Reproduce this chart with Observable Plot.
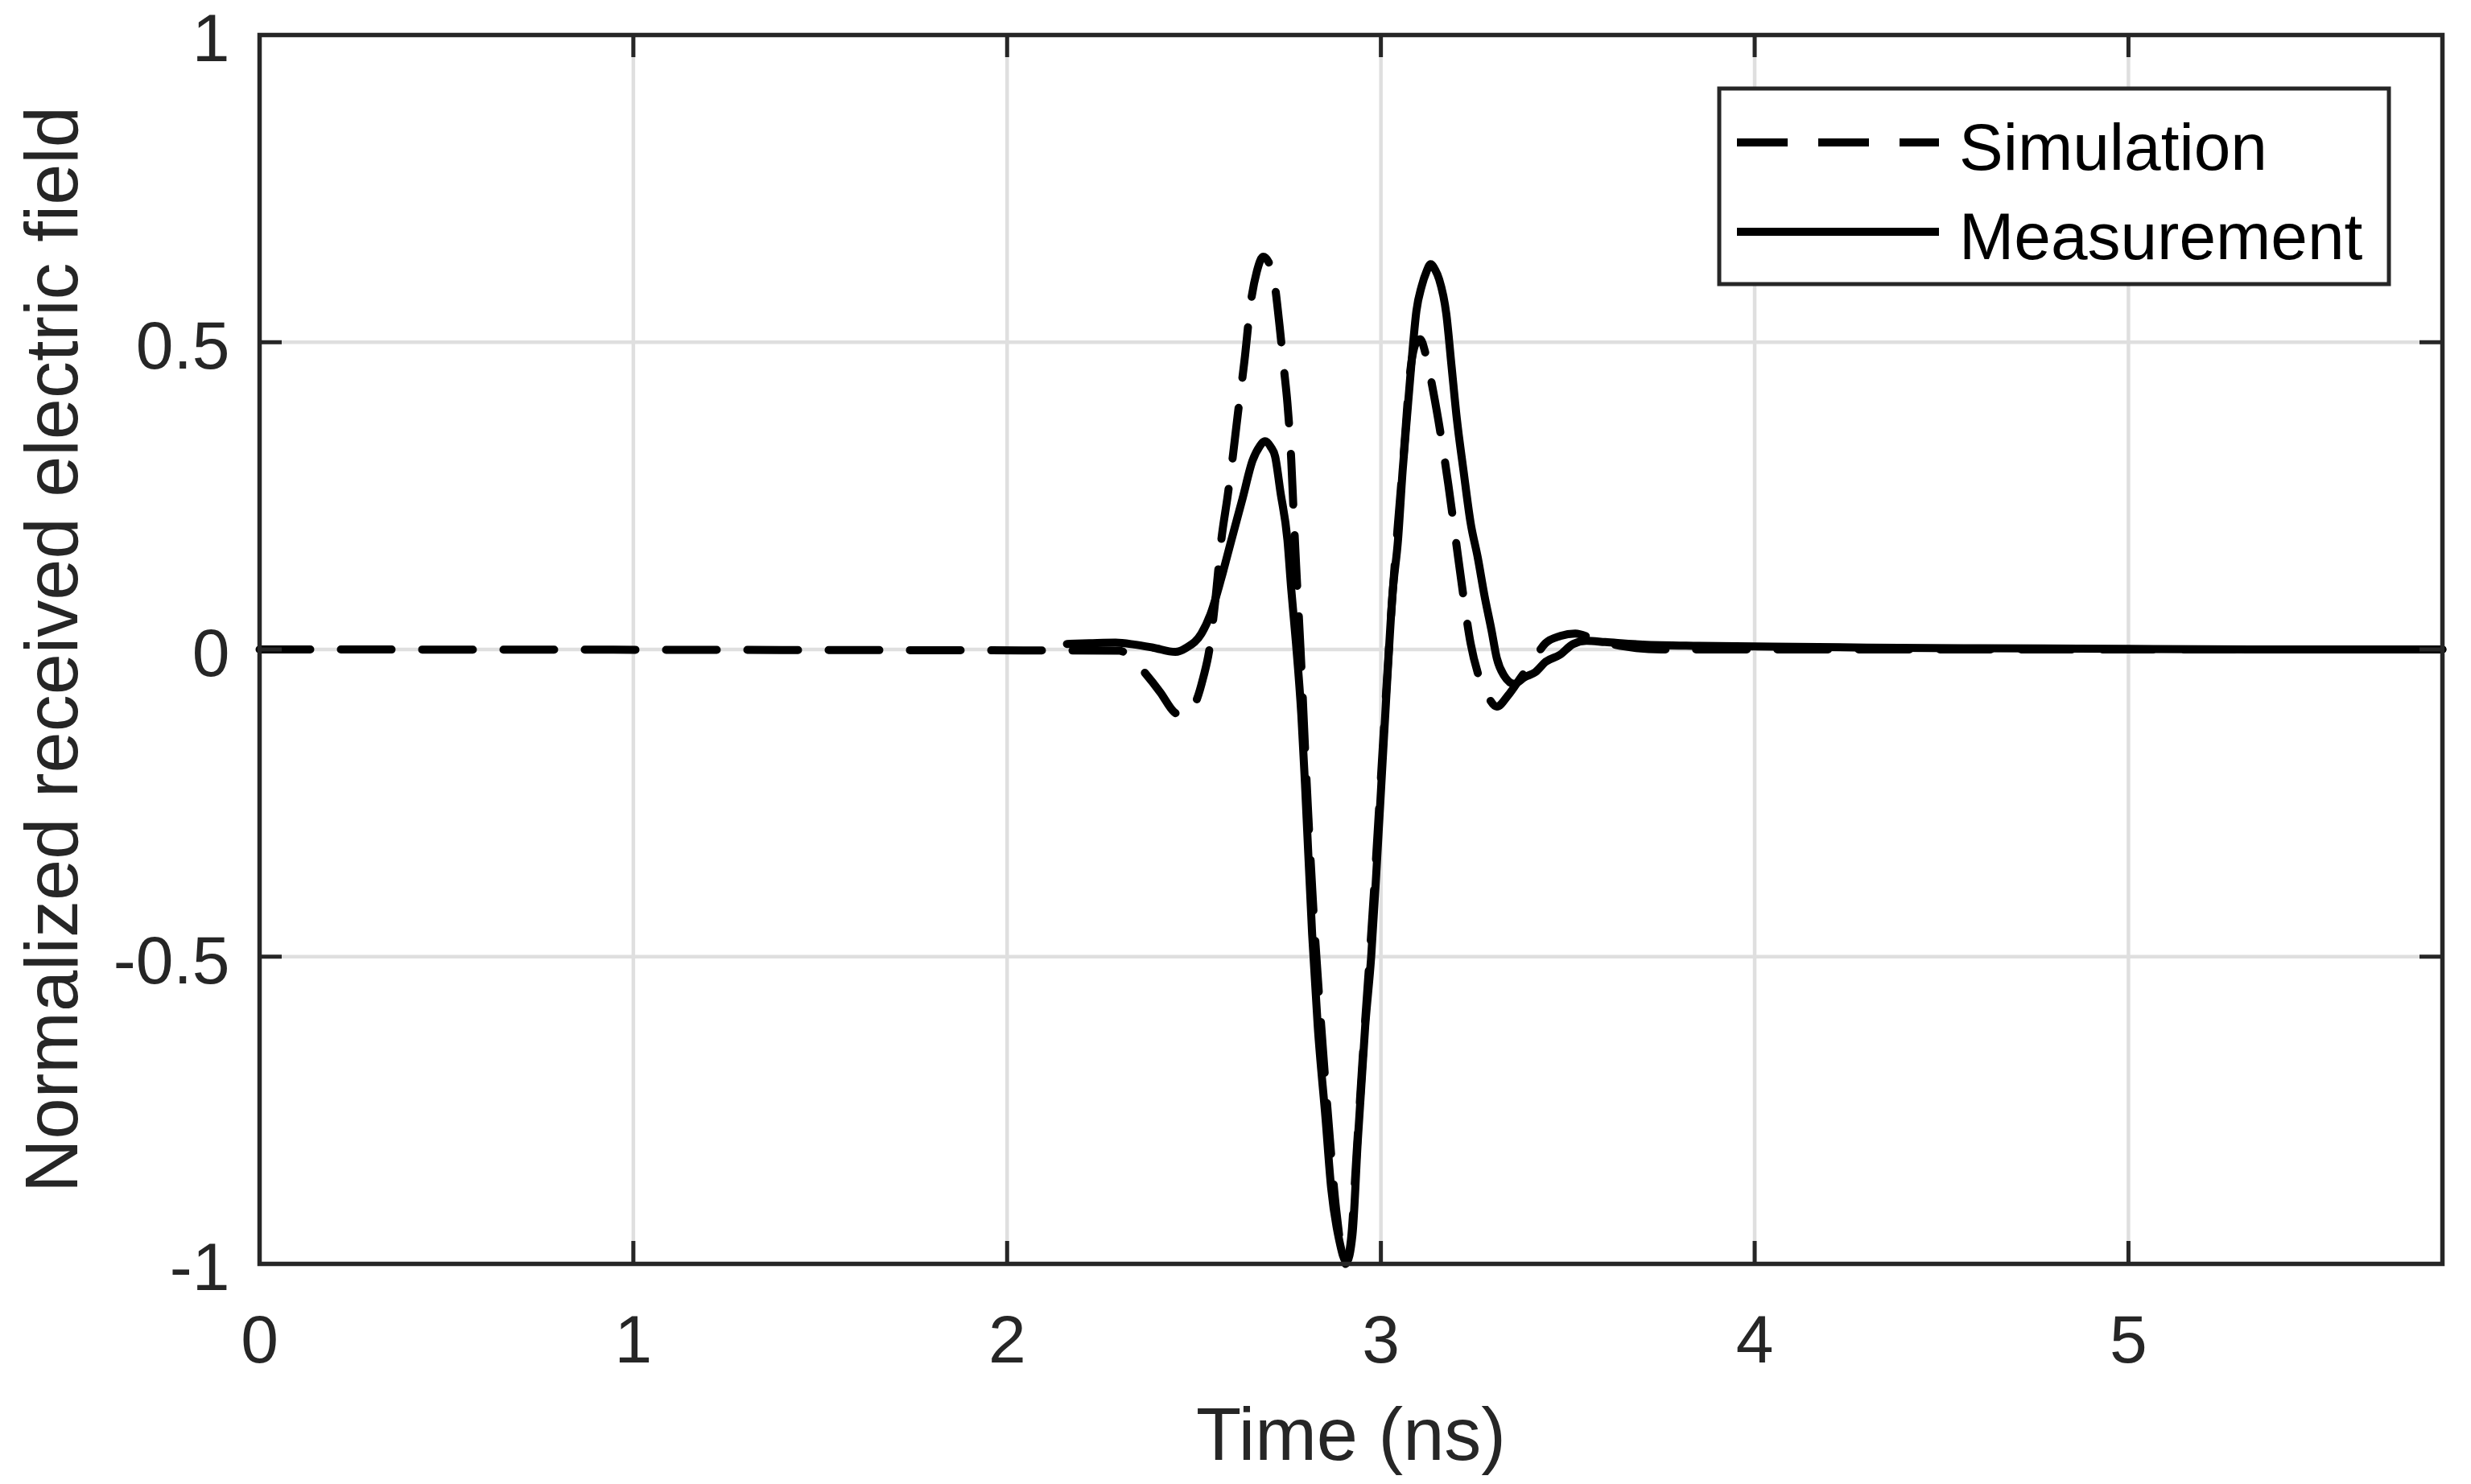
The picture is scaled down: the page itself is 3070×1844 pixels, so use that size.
<!DOCTYPE html>
<html><head><meta charset="utf-8">
<script src="https://cdn.jsdelivr.net/npm/d3@7"></script>
<script src="https://cdn.jsdelivr.net/npm/@observablehq/plot@0.6"></script>
<style>body{margin:0;background:#fff;} #chart{width:3070px;height:1844px;}</style>
</head><body><div id="chart"></div>
<script>
// ---- data ----
const simT = [0,2.30,2.33,2.367,2.41,2.447,2.47,2.49,2.507,2.525,2.54,2.557,2.573,2.59,2.605,2.617,2.635,2.652,2.668,2.685,2.70,2.713,2.729,2.74,2.75,2.76,2.767,2.773,2.785,2.80,2.82,2.84,2.86,2.88,2.905,2.92,2.935,2.955,2.97,2.985,3.0,3.015,3.03,3.045,3.06,3.08,3.095,3.105,3.12,3.14,3.16,3.18,3.20,3.22,3.24,3.26,3.285,3.31,3.34,3.375,3.41,3.44,3.48,3.52,3.57,3.65,3.75,5.84];
const simV = [0,-0.002,-0.012,-0.037,-0.07,-0.102,-0.108,-0.10,-0.082,-0.045,-0.004,0.08,0.178,0.25,0.32,0.382,0.47,0.565,0.615,0.639,0.63,0.605,0.526,0.46,0.40,0.31,0.215,0.139,0.0,-0.2,-0.43,-0.61,-0.77,-0.91,-1.0,-0.96,-0.82,-0.63,-0.50,-0.36,-0.21,-0.06,0.08,0.2,0.31,0.46,0.50,0.505,0.48,0.42,0.35,0.27,0.18,0.09,0.01,-0.04,-0.075,-0.093,-0.075,-0.045,-0.015,0.01,0.022,0.026,0.017,0.005,0.0,0.0];
const measT = [2.16,2.22,2.29,2.34,2.39,2.45,2.48,2.52,2.545,2.573,2.60,2.63,2.657,2.675,2.69,2.705,2.717,2.731,2.75,2.76,2.773,2.787,2.797,2.816,2.831,2.852,2.867,2.888,2.908,2.924,2.938,2.958,2.974,2.989,3.003,3.017,3.031,3.046,3.058,3.07,3.081,3.095,3.109,3.122,3.133,3.145,3.156,3.175,3.189,3.203,3.221,3.24,3.259,3.277,3.296,3.31,3.329,3.357,3.385,3.413,3.441,3.478,3.515,3.55,3.60,3.70,3.85,4.0,4.3,4.6,5.0,5.4,5.84];
const measV = [0.009,0.010,0.011,0.008,0.003,-0.004,0.003,0.026,0.059,0.116,0.178,0.246,0.308,0.33,0.339,0.33,0.314,0.257,0.178,0.099,0.009,-0.105,-0.22,-0.463,-0.613,-0.764,-0.877,-0.96,-0.997,-0.952,-0.801,-0.613,-0.5,-0.35,-0.199,-0.049,0.09,0.18,0.29,0.38,0.461,0.551,0.591,0.615,0.627,0.618,0.602,0.546,0.461,0.376,0.291,0.206,0.15,0.088,0.031,-0.014,-0.042,-0.056,-0.045,-0.037,-0.02,-0.009,0.009,0.014,0.012,0.008,0.006,0.005,0.003,0.002,0.001,0.0,0.0];
const xTicks = [0,1,2,3,4,5];
const yTicks = [-1,-0.5,0,0.5,1];
const xDomain = [0,5.84];
const yDomain = [-1,1];
const xLabel = "Time (ns)";
const yLabel = "Normalized received electric field";
const seriesNames = ["Simulation","Measurement"];

// ---- layout ----
const W=3070,H=1844, mL=322,mR=36,mT=43,mB=274;
const plotW=W-mL-mR, plotH=H-mT-mB;
const tickLen=28;
const ink="#262626";
const gridCol="#dfdfdf";
const dash="63,38";
const font="'Liberation Sans', Arial, Helvetica, sans-serif";

const sim = simT.map((t,i)=>({t, v: simV[i]}));
const meas = measT.map((t,i)=>({t, v: measV[i]}));

const chart = Plot.plot({
  width:W, height:H, marginLeft:mL, marginRight:mR, marginTop:mT, marginBottom:mB,
  style:{fontFamily:font, color:ink, background:"white", overflow:"visible"},
  x:{domain:xDomain},
  y:{domain:yDomain},
  marks:[
    Plot.ruleX(xTicks,{stroke:gridCol,strokeWidth:4.5}),
    Plot.ruleY(yTicks,{stroke:gridCol,strokeWidth:4.5}),
    Plot.line(sim,{x:"t",y:"v",stroke:"#000",strokeWidth:10,strokeDasharray:dash,curve:"monotone-x"}),
    Plot.line(meas,{x:"t",y:"v",stroke:"#000",strokeWidth:10,curve:"monotone-x"}),
    Plot.ruleX(xTicks,{stroke:ink,strokeWidth:5,insetTop:plotH-tickLen}),
    Plot.ruleX(xTicks,{stroke:ink,strokeWidth:5,insetBottom:plotH-tickLen}),
    Plot.ruleY(yTicks,{stroke:ink,strokeWidth:5,insetRight:plotW-tickLen}),
    Plot.ruleY(yTicks,{stroke:ink,strokeWidth:5,insetLeft:plotW-tickLen}),
    Plot.frame({stroke:ink,strokeWidth:5.5}),
    Plot.axisX({ticks:xTicks,tickSize:0,tickPadding:63,fontSize:84,tickFormat:d=>String(d),label:null}),
    Plot.axisY({ticks:yTicks,tickSize:0,tickPadding:37,fontSize:84,tickFormat:d=>String(d),label:null,dy:6}),
    Plot.text([xLabel],{text:d=>d,frameAnchor:"bottom",dy:243,lineAnchor:"bottom",fontSize:92,fill:ink}),
    Plot.text([yLabel],{text:d=>d,frameAnchor:"left",textAnchor:"middle",rotate:-90,dx:95-mL,lineAnchor:"bottom",fontSize:92,fill:ink})
  ]
});
document.getElementById("chart").appendChild(chart);

// ---- legend (inside the axes, top-right) ----
const svg = d3.select(chart);
const lg = svg.append("g");
const box = {x:2136, y:110, w:832, h:243};
lg.append("rect").attr("x",box.x).attr("y",box.y).attr("width",box.w).attr("height",box.h)
  .attr("fill","white").attr("stroke",ink).attr("stroke-width",5);
const rowY = [177,288];
seriesNames.forEach((name,i)=>{
  lg.append("line").attr("x1",2158).attr("x2",2409).attr("y1",rowY[i]).attr("y2",rowY[i])
    .attr("stroke","#000").attr("stroke-width",10)
    .attr("stroke-dasharray", i===0 ? dash : null);
  lg.append("text").attr("x",2434).attr("y",rowY[i]+34).attr("font-size",82)
    .attr("font-family",font).attr("text-anchor","start").attr("fill","#000").text(name);
});
</script>
</body></html>
